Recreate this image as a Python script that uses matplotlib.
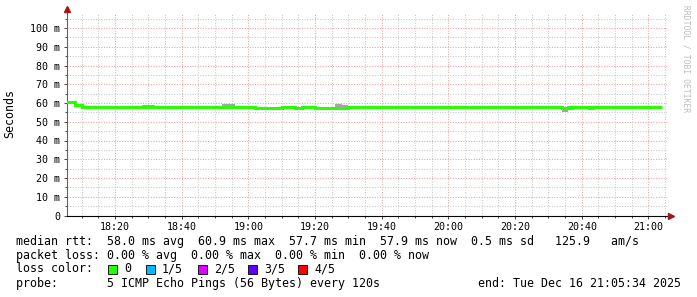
"""Smokeping style latency graph (RRDtool look) for a 3 hour window."""

import matplotlib
matplotlib.use("Agg")
import matplotlib.pyplot as plt
from matplotlib.patches import Rectangle
from matplotlib.ticker import FuncFormatter, MultipleLocator

# --- data ------------------------------------------------------------------
window = ("18:05:34", "21:05:34")

median_edges = ["18:04", "18:08", "18:10", "19:02", "19:10", "19:14",
                "19:16", "19:20", "19:30", "20:34", "20:36", "21:04"]
median_ms = [60.8, 59.0, 57.9, 57.6, 57.9, 57.6, 57.9, 57.6, 57.9, 57.4, 57.9]

smoke_start = ["18:04", "18:28", "18:52", "19:26", "19:28", "20:34", "20:36", "20:42", "20:44"]
smoke_end = ["18:08", "18:32", "18:56", "19:28", "19:30", "20:36", "20:38", "20:44", "20:46"]
smoke_lo = [59.5, 57.9, 57.9, 57.9, 57.9, 55.2, 56.2, 56.2, 56.8]
smoke_hi = [61.0, 58.9, 59.4, 59.4, 58.9, 57.5, 57.5, 57.5, 57.5]

loss_labels = ["0", "1/5", "2/5", "3/5", "4/5"]
loss_colors = ["#26ff00", "#00b8ff", "#dd00ff", "#5e00ff", "#ff0000"]

rtt_line = "median rtt:  58.0 ms avg  60.9 ms max  57.7 ms min  57.9 ms now  0.5 ms sd   125.9   am/s"
loss_line = "packet loss: 0.00 % avg  0.00 % max  0.00 % min  0.00 % now"
probe_line = "probe:       5 ICMP Echo Pings (56 Bytes) every 120s"
end_line = "end: Tue Dec 16 21:05:34 2025"


def to_min(hhmm: str) -> float:
    """Convert 'HH:MM[:SS]' to minutes since midnight."""
    parts = [int(p) for p in hhmm.split(":")]
    while len(parts) < 3:
        parts.append(0)
    return parts[0] * 60 + parts[1] + parts[2] / 60.0


W, H = 697, 297
MONO = "DejaVu Sans Mono"
plt.rcParams["font.family"] = [MONO]


def fx(x):
    return x / W


def fy(y):
    return (H - y) / H


fig = plt.figure(figsize=(W / 100, H / 100), dpi=100)
fig.patch.set_facecolor("white")

y0_px, y_top_px, px_per_ms = 215.5, 13.5, 1.875
ax = fig.add_axes([fx(67), fy(y0_px), 600 / W, (y0_px - y_top_px) / H])
ax.set_xlim(to_min(window[0]), to_min(window[1]))
ax.set_ylim(0, (y0_px - y_top_px) / px_per_ms)

# grid
ax.xaxis.set_major_locator(MultipleLocator(20))
ax.xaxis.set_minor_locator(MultipleLocator(5))
ax.yaxis.set_major_locator(MultipleLocator(10))
ax.yaxis.set_minor_locator(MultipleLocator(5))
ax.grid(which="major", color="#f2a0a0", linestyle=(0, (1, 1.5)), linewidth=0.75, zorder=0)
ax.grid(which="minor", color="#c8c8c8", linestyle=(0, (1, 1.5)), linewidth=0.75, zorder=0)
ax.set_axisbelow(True)

ax.xaxis.set_major_formatter(FuncFormatter(lambda m, _: f"{int(m // 60):02d}:{int(round(m % 60)):02d}"))
ax.yaxis.set_major_formatter(FuncFormatter(lambda v, _: "0" if v == 0 else f"{v:g} m"))
ax.tick_params(which="both", labelsize=7.2, colors="#444444", labelcolor="black", width=0.7)
ax.tick_params(which="major", length=2.0)
ax.tick_params(which="minor", length=1.2)
ax.tick_params(axis="y", pad=3.0)
ax.tick_params(axis="x", pad=2.5)

for side in ("top", "right"):
    ax.spines[side].set_visible(False)
ax.spines["left"].set_color("#606060")
ax.spines["bottom"].set_color("black")
ax.spines["left"].set_linewidth(0.8)
ax.spines["bottom"].set_linewidth(0.8)

# axis arrows
ax.plot([0, 0], [1, 1.012], transform=ax.transAxes, color="#606060", lw=0.8, clip_on=False)
ax.plot([0], [1.02], transform=ax.transAxes, marker="^", ms=4, color="#a01818", clip_on=False)
ax.plot([1, 1.003], [0, 0], transform=ax.transAxes, color="black", lw=0.8, clip_on=False)
ax.plot([1.0065], [0], transform=ax.transAxes, marker=">", ms=4, color="#a01818", clip_on=False)

# smoke
starts = [to_min(t) for t in smoke_start]
widths = [to_min(e) - to_min(s) for s, e in zip(smoke_start, smoke_end)]
heights = [hi - lo for lo, hi in zip(smoke_lo, smoke_hi)]
ax.bar(starts, heights, width=widths, bottom=smoke_lo, align="edge",
       color="#a6a6a6", linewidth=0, zorder=2)

# median line coloured by loss (all zero loss here)
ax.stairs(median_ms, [to_min(t) for t in median_edges], baseline=None,
          color=loss_colors[0], linewidth=2.2, zorder=3)

fig.text(fx(10), fy(113), "Seconds", rotation=90, ha="center", va="center", fontsize=8.4)
fig.text(fx(686), fy(59), "RRDTOOL / TOBI OETIKER", rotation=-90, ha="center", va="center",
         fontsize=5.8, color="#bdbdbd")

# legend block
fs = 8.35
fig.text(fx(16), fy(241), rtt_line, ha="left", va="center", fontsize=fs)
fig.text(fx(16), fy(255), loss_line, ha="left", va="center", fontsize=fs)
fig.text(fx(16), fy(269), "loss color:", ha="left", va="center", fontsize=fs)
box_x = [108, 146, 198, 248, 298]
for bx, lab, col in zip(box_x, loss_labels, loss_colors):
    fig.patches.append(Rectangle((fx(bx), fy(273.5)), 9 / W, 9 / H, transform=fig.transFigure,
                                 facecolor=col, edgecolor="black", linewidth=0.6))
    fig.text(fx(bx + 16), fy(269), lab, ha="left", va="center", fontsize=fs)
fig.text(fx(16), fy(283.5), probe_line, ha="left", va="center", fontsize=fs)
fig.text(fx(478), fy(283.5), end_line, ha="left", va="center", fontsize=fs)

fig.savefig("out.png", dpi=100)
